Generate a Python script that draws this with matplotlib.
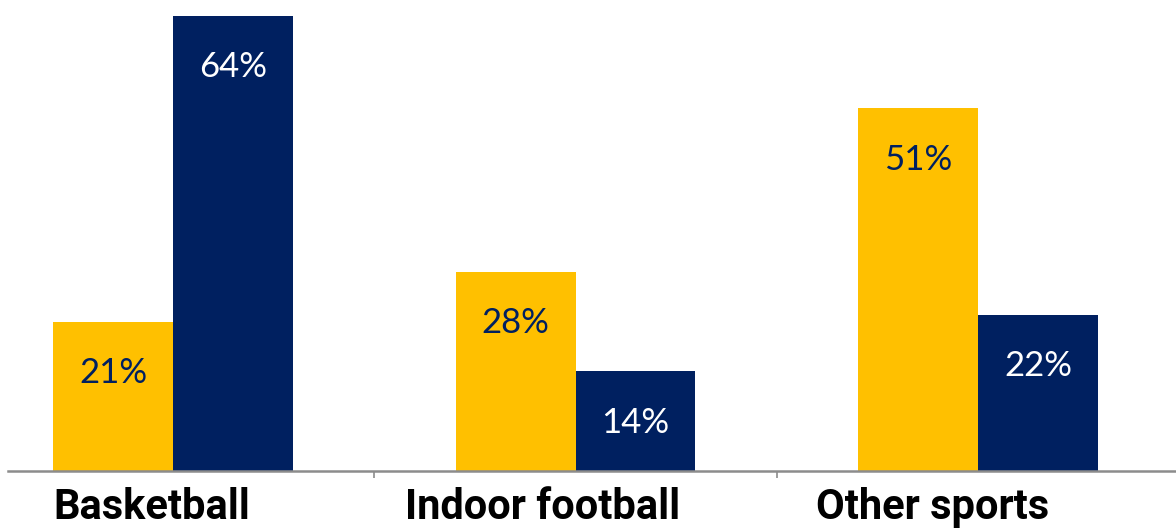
import matplotlib
matplotlib.use('Agg')
import matplotlib.pyplot as plt
import numpy as np

# survey shares per sport, two groups
categories = ['Basketball', 'Indoor football', 'Other sports']
group_a = [21, 28, 51]
group_b = [64, 14, 22]

YELLOW = '#FFC000'
NAVY = '#002060'

fig = plt.figure(figsize=(11.76, 5.29), dpi=100)
# axes fill the canvas, baseline sits 58px above the bottom edge
ax = fig.add_axes([8 / 1176, 58 / 529, 1 - 8 / 1176, 471 / 529])

x = np.arange(len(categories))
width = 0.298

bars_a = ax.bar(x - width / 2, group_a, width, color=YELLOW, zorder=2)
bars_b = ax.bar(x + width / 2, group_b, width, color=NAVY, zorder=2)

ax.set_xlim(-165 / 402.5, (1176 - 173) / 402.5)
ax.set_ylim(0, 471 / 7.11)

# value labels just inside the top of each bar
for bars, vals, txt_color in [(bars_a, group_a, NAVY), (bars_b, group_b, 'white')]:
    for b, v in zip(bars, vals):
        ax.annotate(f'{v}%', xy=(b.get_x() + b.get_width() / 2, v),
                    xytext=(0, -37), textcoords='offset points',
                    ha='center', va='center', color=txt_color,
                    fontsize=25, family='Lato')

# category names under the axis, nudged left of the group centres
label_shift = [-15.5, -23.8, -32.8]
for i, (name, dx) in enumerate(zip(categories, label_shift)):
    ax.annotate(name, xy=(i, 0), xycoords=('data', 'axes fraction'),
                xytext=(dx, -34.5), textcoords='offset points',
                ha='center', va='baseline', fontsize=30,
                fontweight='bold', family='Roboto', color='black')

for side in ['top', 'right', 'left']:
    ax.spines[side].set_visible(False)
ax.spines['bottom'].set_color('#8c8c8c')
ax.spines['bottom'].set_linewidth(1.8)
ax.set_yticks([])
ax.set_xticks([])
ax.set_xticks([0.5, 1.5], minor=True)
ax.tick_params(axis='x', which='minor', length=5, width=1.2, color='#8c8c8c',
               direction='out')

fig.savefig('out.png', dpi=100)
